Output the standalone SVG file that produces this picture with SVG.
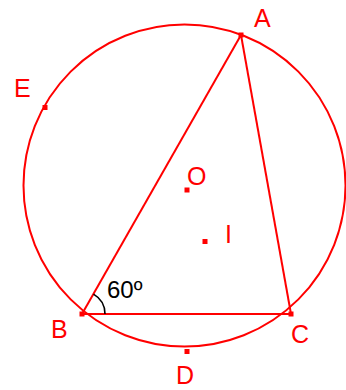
<svg xmlns="http://www.w3.org/2000/svg" width="346" height="390" viewBox="0 0 346 390">
<style>
.ln{fill:none;stroke:#ff0000;stroke-width:2}
.pt{fill:#ff0000}
.lb{font-family:"Liberation Sans",Arial,sans-serif;font-size:25px;fill:#ff0000}
.ang{font-family:"Liberation Sans",Arial,sans-serif;font-size:24px;fill:#000}
</style>
<rect width="346" height="390" fill="#fff"/>
<g id="connectors">
<circle class="ln" cx="184.5" cy="185.5" r="161"/>
<line class="ln" x1="82" y1="314" x2="241" y2="35"/>
<line class="ln" x1="241" y1="35" x2="291" y2="314"/>
<line class="ln" x1="82" y1="314" x2="291" y2="314"/>
<path d="M105,314 A23,23 0 0 0 93.5,294.1" fill="none" stroke="#000" stroke-width="1.6"/>
<text class="ang" x="107" y="298">60º</text>
</g>
<g id="A"><rect class="pt" x="238.5" y="32.5" width="5" height="5"/><text class="lb" x="254" y="27">A</text></g>
<g id="B"><rect class="pt" x="79.5" y="311.5" width="5" height="5"/><text class="lb" x="51" y="338">B</text></g>
<g id="C"><rect class="pt" x="288.5" y="311.5" width="5" height="5"/><text class="lb" x="291" y="343">C</text></g>
<g id="D"><rect class="pt" x="184.5" y="349" width="5" height="5"/><text class="lb" x="176" y="384">D</text></g>
<g id="E"><rect class="pt" x="42.5" y="105" width="5" height="5"/><text class="lb" x="14" y="97">E</text></g>
<g id="O"><rect class="pt" x="184.5" y="187.5" width="5" height="5"/><text class="lb" x="187" y="185">O</text></g>
<g id="I"><rect class="pt" x="202.5" y="239" width="5" height="5"/><text class="lb" x="225" y="243">I</text></g>
</svg>
